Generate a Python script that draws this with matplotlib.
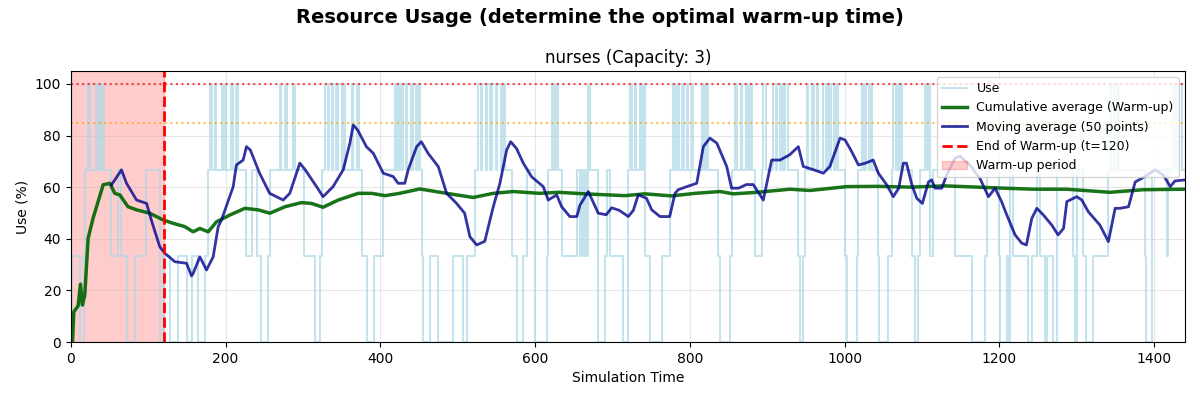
import numpy as np
import matplotlib.pyplot as plt

# --- data ---
capacity = 3
warmup_end = 120

# step changes of the number of busy nurses: (time, busy)
use_steps = [
    (0, 0), (2, 1), (11.6, 0), (16.8, 1), (18, 2), (22.4, 3), (25.4, 2), (33, 3), (35, 2),
    (37, 3), (39, 2), (41, 3), (43, 2), (52.6, 1), (61, 2), (65.5, 1), (72, 0), (82.7, 1),
    (97, 2), (115, 0), (119, 1), (128, 0), (139, 1), (150, 0), (157, 1), (165, 0), (173, 1),
    (177, 2), (180, 3), (183, 2), (186, 3), (188, 2), (195, 3), (197, 2), (199, 3), (201, 2),
    (207.5, 3), (210, 2), (214, 3), (216, 2), (227, 1), (233.6, 2), (240, 1), (246, 0),
    (255.4, 1), (257.6, 2), (270.5, 3), (272, 2), (277, 3), (279, 2), (287.7, 3), (290, 2),
    (300.8, 1), (315.9, 0), (322.4, 1), (324.5, 2), (328.8, 3), (332, 2), (334, 3), (337, 2),
    (339, 3), (343, 2), (345, 3), (350, 2), (352, 3), (354.7, 2), (363.3, 3), (365, 2),
    (370, 3), (372, 2), (376.3, 1), (382.7, 0), (391.4, 1), (403.8, 2),
    (418.9, 3), (422, 2), (424, 3), (427, 2), (429, 3), (433, 2), (435, 3), (440, 2), (442, 3),
    (446, 2), (449, 3), (451, 2), (453.4, 1), (455.5, 0), (464.2, 1), (474.9, 0),
    (494.3, 1), (507.3, 0), (511.6, 1), (522.3, 2), (526.6, 3), (530, 2), (532, 3), (536, 2),
    (538, 3), (542, 2), (545, 3), (549, 2), (551, 3), (556, 2), (559, 3), (561, 2),
    (569.7, 1), (576.2, 0), (584.8, 1), (589, 2), (600, 0), (615, 1), (617, 2), (621.5, 3),
    (624, 2), (627, 3), (630, 2), (634.4, 1), (653.8, 2), (658, 1), (660, 2), (662, 1),
    (664, 2), (666.7, 1), (669, 3), (671, 2), (681.8, 0), (690.4, 1), (692.6, 2), (697, 1),
    (714, 0), (720.6, 2), (722.7, 3), (725, 2), (729, 3), (731, 2), (736, 3), (738, 2),
    (740, 3), (742, 1), (748.6, 0), (763.7, 1), (774.5, 2), (778.8, 3), (781, 2), (784, 3),
    (786, 2), (790, 3), (793, 2), (796, 3), (798, 2), (802.5, 3), (804, 2),
    (815.4, 3), (818, 2), (821, 3), (824, 2), (837, 1), (839, 0), (852, 1), (854, 2),
    (858.5, 3), (861, 2), (866, 3), (868, 2), (873, 3), (875, 2), (878, 3), (880, 2),
    (884.3, 1), (893, 2), (895, 3), (898, 2), (908, 3), (911, 2), (913, 3), (916, 2),
    (918, 3), (921, 2), (923, 3), (927.4, 2), (940.4, 1), (942.5, 0), (946.8, 1), (949, 2),
    (951, 3), (953, 2), (958, 3), (960, 2), (964, 3), (966, 2), (972.7, 3), (976, 2),
    (978, 3), (981, 2), (983, 3), (987, 2), (989, 3), (992, 2),
    (1000.7, 1), (1002.8, 0), (1015.7, 1), (1017.8, 2), (1022, 3), (1025, 2), (1028, 3),
    (1031, 2), (1033, 3), (1035, 2), (1043.7, 1), (1045, 0), (1056.6, 1), (1061, 2),
    (1063, 3), (1066, 2), (1068, 3), (1071, 2), (1072, 3), (1074, 2), (1086.8, 1),
    (1091, 0), (1095.4, 1), (1097.6, 2), (1104, 3), (1106, 2), (1108, 3), (1110.5, 1),
    (1114.8, 2), (1142.8, 1), (1164.4, 0), (1181.6, 1), (1183.8, 2), (1199.7, 1),
    (1201, 0), (1209.6, 1), (1212, 0), (1214, 2), (1218.2, 1), (1237.6, 0), (1242, 1),
    (1248.4, 2), (1252, 1), (1259.2, 0), (1262, 1), (1270, 0), (1274.3, 2), (1295.8, 1),
    (1298, 0), (1300, 2), (1308.8, 1), (1312, 0), (1321.7, 1), (1341, 2), (1345, 3),
    (1348, 2), (1352, 3), (1355, 2), (1388.5, 1), (1390, 0), (1397, 2), (1416.5, 1),
    (1418.6, 2), (1425, 3), (1428, 2), (1432, 3), (1436, 2), (1440, 2),
]

# cumulative average: (time, %)
cum_points = [
    (2.2, 0), (3.9, 11.7), (9.5, 14), (12.5, 22.4), (15, 14.3), (18, 18), (22.4, 40.2),
    (28.8, 48), (35.3, 54.4), (41.8, 60.9), (50.4, 61.5), (56.9, 57.6), (63.3, 57),
    (74, 52.4), (85, 51.2), (102, 49.9), (119.4, 47.3), (132, 46), (147.4, 44.7),
    (158, 42.7), (166.8, 44), (177.6, 42.7), (188.4, 46.6), (205.6, 49.2), (225, 51.8),
    (242, 51.2), (257.3, 49.9), (276.7, 52.4), (298, 54), (311, 53.7), (326, 52.2),
    (345.6, 55), (371.5, 57.6), (388.7, 57.6), (406, 56.7), (425, 57.6), (451, 59.3),
    (485.7, 57.6), (520, 56), (546, 57.6), (572, 58.3), (606, 57.6), (630, 58),
    (664.5, 57.4), (716, 56.7), (742, 57.4), (776.6, 56.6), (806.7, 57.6), (839, 58.3),
    (856, 57.4), (887, 58), (929.6, 59.2), (955, 58.7), (1002.8, 60.2), (1043, 60.3),
    (1086, 60), (1129, 60.5), (1172, 60), (1206, 59.6), (1244, 59.2), (1287, 59.2),
    (1343, 58), (1386, 59), (1440, 59.2),
]

# moving average over 50 points: (time, %)
mov_points = [
    (52.6, 60.9), (65.5, 66.7), (72, 61.5), (85, 55), (98, 53.7), (104, 47.3), (115, 36.9),
    (121.5, 34.4), (134.5, 31.1), (149.6, 30.5), (156, 25.6), (158, 26.5), (166.8, 33),
    (175.4, 27.9), (184, 33), (190.5, 44.7), (194.8, 47.3), (209.9, 60.2), (214, 68.6),
    (222.8, 70.5), (227, 75.7), (232, 74.4), (244, 65.4), (257, 57.6), (274.5, 55),
    (283, 57.6), (296, 69.3), (303, 66.7), (317.6, 60.2), (326, 56.3), (339, 60.2),
    (352, 66.7), (360.7, 77), (365, 84.1), (371, 82), (382, 75.7), (391, 73.1),
    (403.8, 65.4), (416.7, 64.1), (423, 61.5), (431.6, 61.5), (436, 66.7), (447, 75.7),
    (453, 77.6), (462, 73), (474.9, 68), (485.7, 57.6), (498.6, 53.7), (509, 49.9),
    (515.8, 40.8), (524.5, 37.6), (535, 39), (546, 52.4), (554.6, 61.5), (563.3, 74.4),
    (568.5, 77.6), (576, 75), (584.8, 69.3), (595.6, 64), (610.6, 60.2), (617, 55),
    (628, 57), (634.4, 52.4), (645, 48.6), (654, 48.6), (658, 53), (668.8, 58.3),
    (681.7, 49.9), (692, 49.3), (699, 52), (709, 51), (720.5, 48.6), (727, 51),
    (733.4, 57), (744, 55.7), (750.8, 51.2), (761.5, 48.6), (774, 48.6), (780.9, 57.6),
    (785, 59), (796, 60.2), (809, 61.5), (817.5, 75.7), (826, 79), (835, 77), (847.7, 68),
    (854, 59.6), (863, 59.6), (873, 61), (882, 61), (895, 55), (905.8, 70.5),
    (916.6, 70.5), (929, 72.5), (940.3, 75.7), (946.7, 68), (957.4, 67), (972.6, 65.4),
    (981, 68), (994.2, 79), (1000.6, 78.3), (1009, 73.9), (1018, 68.6), (1027, 69.3),
    (1037, 70.5), (1043.7, 65.4), (1054.5, 60.9), (1063, 56.3), (1070, 59.6), (1076, 69.3),
    (1080, 69.3), (1087, 60.9), (1093.3, 55.7), (1100.6, 53.7), (1108.4, 62),
    (1112.6, 62.8), (1117, 59.6), (1125.6, 59.6), (1132, 64.7), (1142.9, 71.2),
    (1149, 72), (1162, 68.6), (1175, 63.4), (1186, 56.3), (1194.5, 59.6), (1203, 54.4),
    (1209.7, 49.2), (1220.4, 41.5), (1229, 38.3), (1235, 37.6), (1242, 47.9),
    (1248.5, 51.8), (1257, 49.2), (1267.8, 45.3), (1276, 41.5), (1283, 44), (1287.3, 54.4),
    (1300, 56.3), (1306.7, 55), (1315, 50.5), (1330, 45.3), (1341, 38.9), (1349.7, 51.8),
    (1356, 51.8), (1367, 52.4), (1375.6, 62), (1384, 63.4), (1401.4, 66.7), (1412, 64.7),
    (1421, 60.2), (1427, 62.4), (1440, 62.8),
]

use_t, use_busy = zip(*use_steps)
use_pct = np.array(use_busy) / capacity * 100
cum_t, cum_val = zip(*cum_points)
mov_t, mov_val = zip(*mov_points)

fig, ax = plt.subplots(figsize=(12, 4), dpi=100)
fig.subplots_adjust(left=0.059, right=0.9875, top=0.8225, bottom=0.145)

ax.plot(use_t, use_pct, drawstyle='steps-post', color='lightblue', alpha=0.7,
        linewidth=1.5, label='Use')
ax.plot(cum_t, cum_val, color='darkgreen', alpha=0.9, linewidth=2.5,
        label='Cumulative average (Warm-up)')
ax.plot(mov_t, mov_val, color='darkblue', alpha=0.8, linewidth=2,
        label='Moving average (50 points)')
ax.axvline(warmup_end, color='red', linestyle='--', linewidth=2,
           label=f'End of Warm-up (t={warmup_end})')
ax.axvspan(0, warmup_end, color='red', alpha=0.2, label='Warm-up period')
ax.axhline(100, color='red', linestyle=':', alpha=0.7)
ax.axhline(85, color='orange', linestyle=':', alpha=0.7)

ax.set_xlim(0, 1440)
ax.set_ylim(0, 105)
ax.set_xlabel('Simulation Time')
ax.set_ylabel('Use (%)')
ax.set_title(f'nurses (Capacity: {capacity})', fontsize=12)
ax.grid(True, alpha=0.3)
ax.legend(loc='upper right', fontsize=9)

fig.suptitle('Resource Usage (determine the optimal warm-up time)', fontsize=14,
             fontweight='bold')
fig.savefig('out.png')
